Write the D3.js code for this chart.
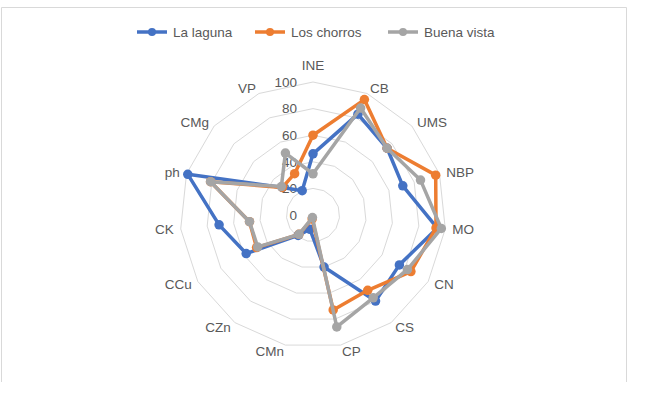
<!DOCTYPE html>
<html>
<head>
<meta charset="utf-8">
<script src="https://d3js.org/d3.v7.min.js"></script>
<style>
  body { margin: 0; background: #fff; }
  text { font-family: "Liberation Sans", Arial, sans-serif; fill: #595959; }
</style>
</head>
<body>
<svg id="chart" width="658" height="416"></svg>

<script>
// axes, clockwise from the top
var categories = ["INE", "CB", "UMS", "NBP", "MO", "CN", "CS", "CP", "CMn", "CZn", "CCu", "CK", "ph", "CMg", "VP"];
var laLaguna   = [46, 83, 75, 71, 94, 75, 80, 40, 11, 19, 58, 71, 99, 31, 20];
var losChorros = [60, 95, 75, 97, 93, 85, 70, 73, 3, 18, 49, 48, 81, 31, 34];
var buenaVista = [31, 88, 75, 85, 97, 82, 77, 86, 2, 18, 48, 48, 81, 32, 51];
var seriesNames = ["La laguna", "Los chorros", "Buena vista"];
var tickValues = [0, 20, 40, 60, 80, 100];

var colors = ["#4472C4", "#ED7D31", "#A5A5A5"];
var allSeries = [laLaguna, losChorros, buenaVista];

var svg = d3.select("#chart");
var cx = 313, cy = 215, R = 133;

// chart frame (bottom edge is cut off in the picture)
svg.append("path")
  .attr("d", "M1.5,382 L1.5,7.5 L626.5,7.5 L626.5,382")
  .attr("fill", "none")
  .attr("stroke", "#d9d9d9")
  .attr("stroke-width", 1);

var r = d3.scaleLinear().domain([0, 100]).range([0, R]);
var angle = d3.scalePoint().domain(categories).range([0, 2 * Math.PI * (categories.length - 1) / categories.length]);

var g = svg.append("g").attr("transform", "translate(" + cx + "," + cy + ")");

function pt(cat, v) {
  var a = angle(cat);
  return [r(v) * Math.sin(a), -r(v) * Math.cos(a)];
}

// gridline polygons
tickValues.filter(function (t) { return t > 0; }).forEach(function (t) {
  g.append("polygon")
    .attr("points", categories.map(function (c) { return pt(c, t).join(","); }).join(" "))
    .attr("fill", "none")
    .attr("stroke", "#d9d9d9")
    .attr("stroke-width", 1);
});

// value labels along the top axis
g.selectAll(".tick")
  .data(tickValues)
  .enter().append("text")
  .attr("x", -16)
  .attr("y", function (d) { return -r(d); })
  .attr("dy", "0.35em")
  .attr("text-anchor", "end")
  .style("font-size", "13.5px")
  .text(function (d) { return d; });

// category labels
categories.forEach(function (c) {
  var a = angle(c);
  var s = Math.sin(a), co = Math.cos(a);
  var t = g.append("text")
    .style("font-size", "13.5px")
    .attr("text-anchor", "middle")
    .attr("dy", "0.35em")
    .text(c);
  var w = t.node().getComputedTextLength();
  var sx = Math.abs(s) < 0.01 ? 0 : (s > 0 ? 1 : -1);
  var x = (R + 7) * s + sx * w / 2;
  var y = -(R + 6) * co - (co > 0.99 ? 11 : 0);
  t.attr("x", x).attr("y", y);
});

// series
var line = d3.line().curve(d3.curveLinearClosed);
allSeries.forEach(function (vals, i) {
  var pts = categories.map(function (c, k) { return pt(c, vals[k]); });
  g.append("path")
    .attr("d", line(pts))
    .attr("fill", "none")
    .attr("stroke", colors[i])
    .attr("stroke-width", 3.5)
    .attr("stroke-linejoin", "round");
  g.selectAll(".m" + i)
    .data(pts)
    .enter().append("circle")
    .attr("cx", function (d) { return d[0]; })
    .attr("cy", function (d) { return d[1]; })
    .attr("r", 4.75)
    .attr("fill", colors[i]);
});

// legend
var legendX = [137, 255, 388];
seriesNames.forEach(function (name, i) {
  var lg = svg.append("g").attr("transform", "translate(" + legendX[i] + ",32)");
  lg.append("line").attr("x1", 0).attr("x2", 30).attr("y1", 0).attr("y2", 0)
    .attr("stroke", colors[i]).attr("stroke-width", 3.5);
  lg.append("circle").attr("cx", 15).attr("cy", 0).attr("r", 4).attr("fill", colors[i]);
  lg.append("text").attr("x", 36).attr("dy", "0.35em")
    .style("font-size", "13.5px").text(name);
});
</script>
</body>
</html>
